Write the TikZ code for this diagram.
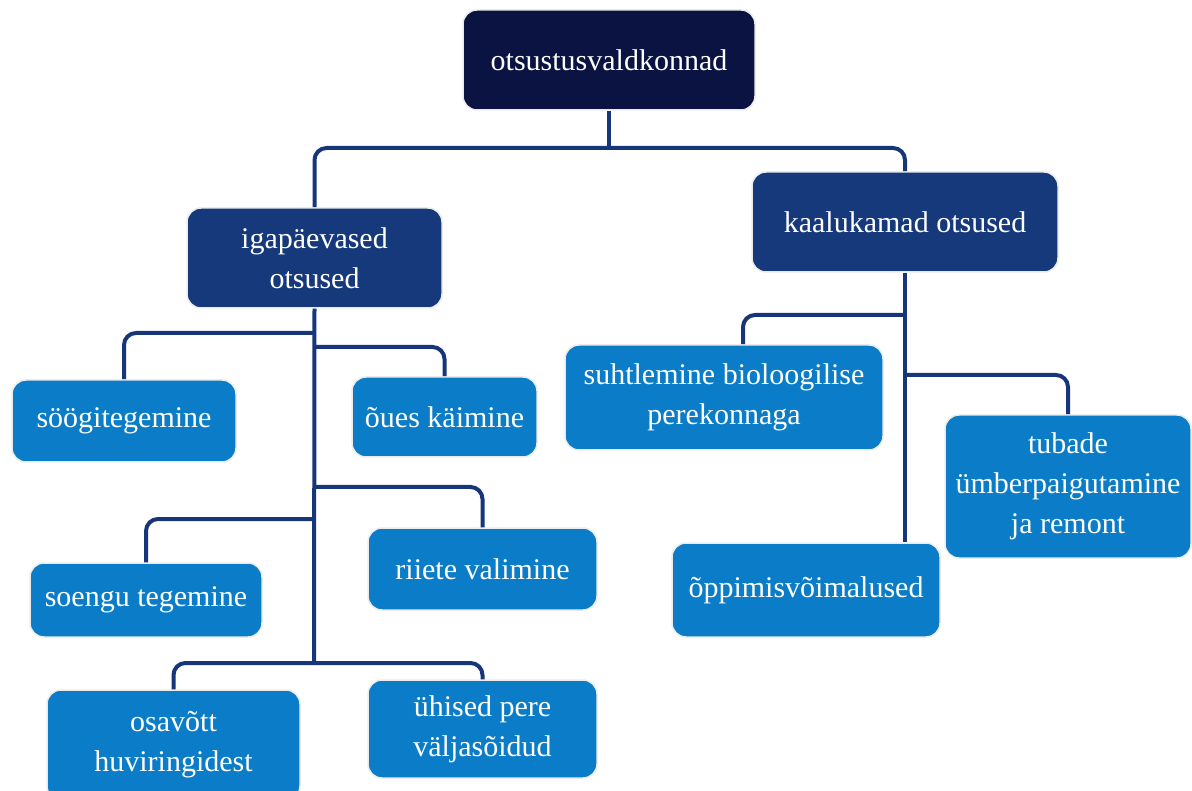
\documentclass[tikz,border=0pt]{standalone}
\usepackage{fontspec}
\setmainfont{Liberation Serif}
\usetikzlibrary{positioning}

\definecolor{rootblue}{HTML}{0A1342}
\definecolor{midblue}{HTML}{15397A}
\definecolor{leafblue}{HTML}{0B7DC8}
\definecolor{linkblue}{HTML}{17367A}

\begin{document}
\begin{tikzpicture}[x=1pt,y=-1pt,
box/.style={rounded corners=14pt,
  draw=black!8, line width=1.5pt,
  text=white, align=center, inner sep=0pt,
  font=\fontsize{30}{40}\selectfont
},
root/.style={box, fill=rootblue},
group/.style={box, fill=midblue},
leaf/.style={box, fill=leafblue},
link/.style={linkblue, line width=4pt, rounded corners=12pt}
]
\clip (0,0) rectangle (1192,791);

\node (top) [root, minimum width=292pt, minimum height=100pt] at (609,60) {otsustusvaldkonnad};
\node (igap) [group, minimum width=255pt, minimum height=100pt] at (314.5,258) {igapäevased\\otsused};
\node (kaal) [group, minimum width=306pt, minimum height=100pt] at (905,222) {kaalukamad otsused};

\node (soog) [leaf, minimum width=224pt, minimum height=82pt] at (124,421) {söögitegemine};
\node (oues) [leaf, minimum width=185pt, minimum height=80pt] at (444.5,417) {õues käimine};
\node (soen) [leaf, minimum width=232pt, minimum height=74pt] at (146,600) {soengu tegemine};
\node (riie) [leaf, minimum width=229pt, minimum height=82pt] at (482.5,569) {riiete valimine};
\node (osav) [leaf, minimum width=253pt, minimum height=110pt] at (173.5,745) {osavõtt\\huviringidest};
\node (yhis) [leaf, minimum width=229pt, minimum height=98pt] at (482.5,729) {ühised pere\\väljasõidud};

\node (suht) [leaf, minimum width=318pt, minimum height=105pt] at (724,397.5) {suhtlemine bioloogilise\\perekonnaga};
\node (tuba) [leaf, minimum width=246pt, minimum height=143pt] at (1068,486.5) {tubade\\ümberpaigutamine\\ja remont};
\node (oppi) [leaf, minimum width=268pt, minimum height=94pt] at (806,590) {õppimisvõimalused};

\coordinate (j0) at (609,148);
\coordinate (j1) at (314,333);
\coordinate (j2) at (314,347);
\coordinate (j3) at (314,487);
\coordinate (j4) at (314,519);
\coordinate (j5) at (314,663);
\coordinate (j6) at (905,315);
\coordinate (j7) at (905,375);

\draw [link] (top.south) -- (j0);
\draw [link] (j0) -| (igap.north);
\draw [link] (j0) -| (kaal.north);

\draw [link] (igap.south) -- (j5);
\draw [link] (j1) -| (soog.north);
\draw [link] (j2) -| (oues.north);
\draw [link] (j3) -| (riie.north);
\draw [link] (j4) -| (soen.north);
\draw [link] (j5) -| (osav.north);
\draw [link] (j5) -| (yhis.north);

\draw [link] (kaal.south) -- (kaal.south |- oppi.north);
\draw [link] (j6) -| ([xshift=19pt]suht.north);
\draw [link] (j7) -| (tuba.north);

\end{tikzpicture}
\end{document}
